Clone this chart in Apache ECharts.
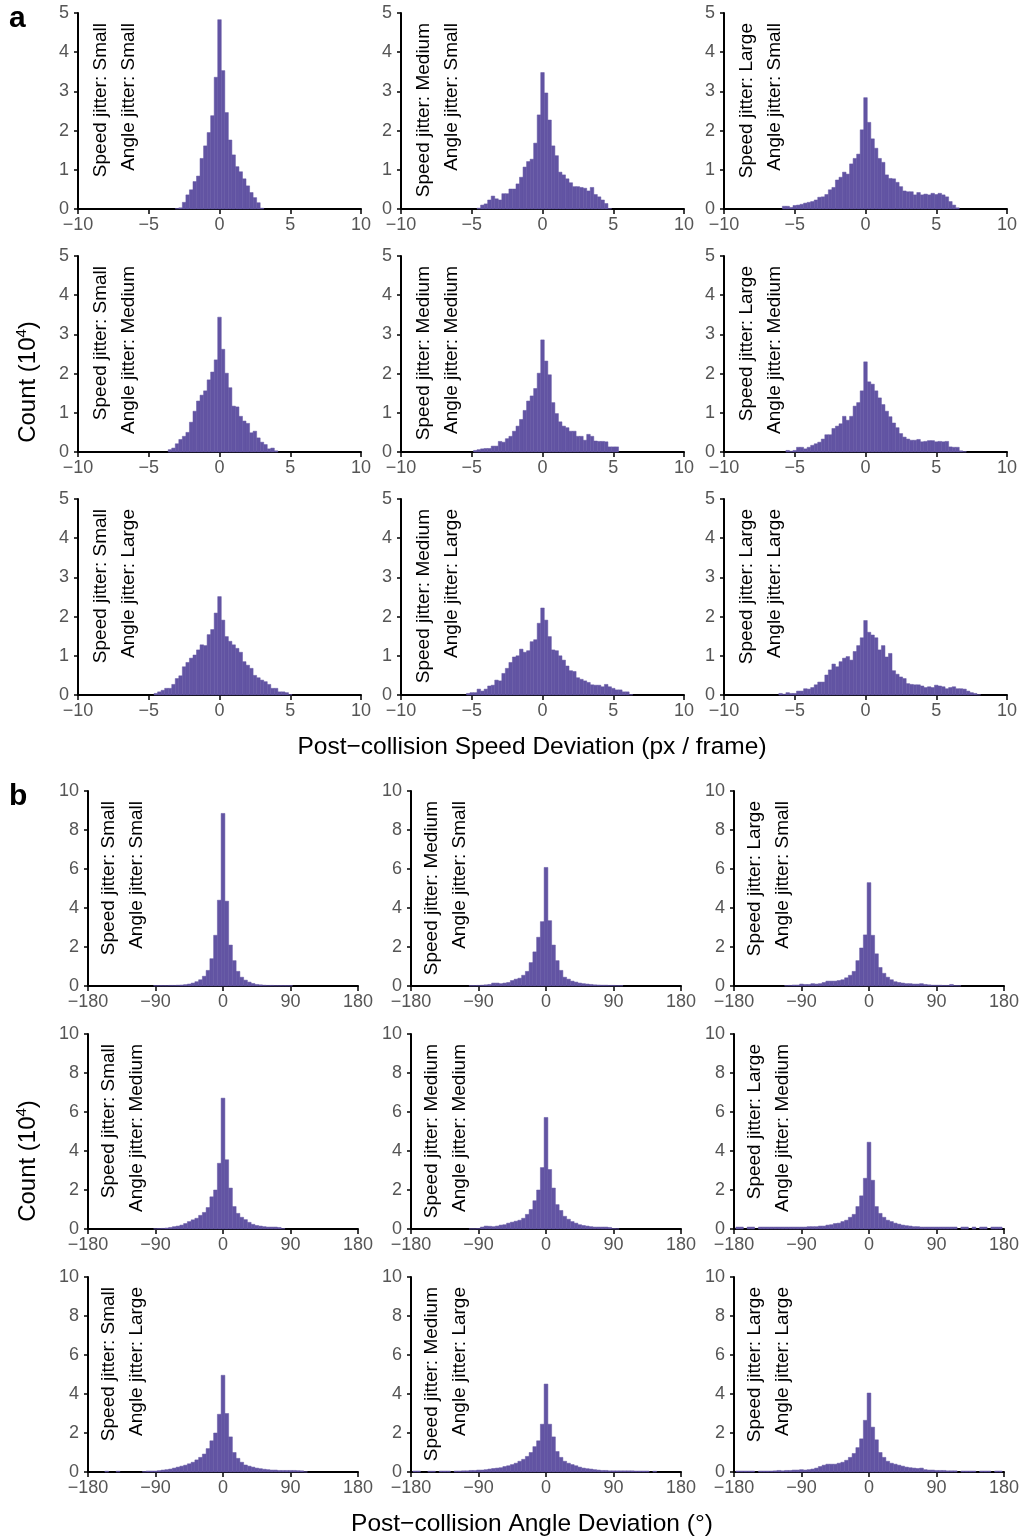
<!DOCTYPE html>
<html><head><meta charset="utf-8">
<script src="https://cdn.jsdelivr.net/npm/echarts@6/dist/echarts.min.js"></script>
<style>html,body{margin:0;padding:0;background:#fff}#c{width:1022px;height:1538px}</style>
</head><body><div id="c"></div>
<script>
// ---------------- DATA ----------------
const jitterLevels = ['Small', 'Medium', 'Large'];
const speedTicks = [-10, -5, 0, 5, 10];
const angleTicks = [-180, -90, 0, 90, 180];
const speedBinWidth = 0.25;   // px/frame
const angleBinWidth = 5;      // degrees

// Panel a: speed deviation histograms (counts in 10^4); name = speed_<speedJitter>_<angleJitter>
const speedStart_S_S = -3.0;
const speed_S_S = [0.01,0.03,0.17,0.36,0.49,0.70,0.84,1.29,1.61,1.95,2.38,3.36,4.83,3.53,2.46,1.76,1.38,1.08,0.95,0.77,0.59,0.42,0.29,0.16,0.02];
const speedStart_M_S = -4.5;
const speed_M_S = [0.02,0.10,0.13,0.23,0.33,0.26,0.23,0.39,0.39,0.51,0.51,0.64,0.81,1.07,1.21,1.27,1.68,2.40,3.48,2.96,2.27,1.61,1.36,0.94,0.87,0.77,0.67,0.57,0.57,0.55,0.53,0.46,0.55,0.37,0.31,0.23,0.14,0.01];
const speedStart_L_S = -5.75;
const speed_L_S = [0.07,0.07,0.04,0.09,0.10,0.12,0.15,0.17,0.19,0.23,0.30,0.31,0.37,0.49,0.55,0.74,0.81,0.94,0.89,1.15,1.29,1.40,2.02,2.84,2.21,1.79,1.55,1.29,1.19,0.87,0.78,0.77,0.68,0.57,0.46,0.44,0.44,0.36,0.42,0.36,0.38,0.36,0.40,0.37,0.40,0.36,0.31,0.19,0.10,0.03];
const speedStart_S_M = -3.5;
const speed_S_M = [0.06,0.10,0.21,0.32,0.40,0.50,0.76,1.04,1.30,1.45,1.56,1.84,2.04,2.35,3.44,2.62,2.01,1.64,1.17,1.15,0.91,0.79,0.73,0.49,0.53,0.36,0.25,0.19,0.08,0.10,0.03];
const speedStart_M_M = -4.75;
const speed_M_M = [0.04,0.06,0.08,0.09,0.09,0.15,0.15,0.27,0.25,0.34,0.40,0.53,0.66,0.83,1.06,1.30,1.43,1.62,2.01,2.86,2.32,1.97,1.26,0.98,0.77,0.66,0.62,0.53,0.53,0.40,0.40,0.30,0.45,0.40,0.28,0.27,0.27,0.26,0.13,0.13,0.13];
const speedStart_L_M = -5.5;
const speed_L_M = [0.04,0.02,0.04,0.12,0.12,0.08,0.12,0.17,0.21,0.25,0.33,0.44,0.44,0.60,0.66,0.72,0.91,0.81,0.91,1.17,1.26,1.56,2.30,1.79,1.73,1.56,1.38,1.21,1.04,0.90,0.74,0.62,0.47,0.38,0.33,0.30,0.30,0.32,0.26,0.27,0.29,0.29,0.26,0.27,0.26,0.27,0.13,0.12,0.12,0.03,0.01];
const speedStart_S_L = -4.5;
const speed_S_L = [0.04,0.08,0.12,0.17,0.17,0.27,0.42,0.49,0.72,0.83,0.94,1.02,1.15,1.28,1.26,1.54,1.67,2.09,2.51,1.91,1.49,1.37,1.28,1.19,1.09,0.85,0.76,0.68,0.50,0.44,0.38,0.34,0.27,0.17,0.17,0.08,0.08,0.06,0.01];
const speedStart_M_L = -5.25;
const speed_M_L = [0.04,0.06,0.06,0.15,0.10,0.15,0.23,0.25,0.38,0.36,0.55,0.68,0.83,0.97,1.00,1.17,1.09,1.13,1.36,1.41,1.83,2.22,1.91,1.49,1.15,1.13,1.00,0.89,0.74,0.62,0.60,0.44,0.40,0.36,0.32,0.26,0.25,0.25,0.21,0.27,0.21,0.17,0.13,0.13,0.08,0.08,0.01];
const speedStart_L_L = -6.0;
const speed_L_L = [0.04,0.02,0.06,0.04,0.04,0.10,0.10,0.16,0.15,0.19,0.26,0.33,0.33,0.51,0.64,0.79,0.72,0.85,0.94,0.98,0.89,1.11,1.26,1.46,1.90,1.60,1.53,1.46,1.15,1.26,0.97,1.06,0.62,0.53,0.46,0.42,0.29,0.27,0.26,0.26,0.23,0.19,0.21,0.19,0.25,0.23,0.21,0.16,0.19,0.21,0.16,0.16,0.15,0.10,0.06,0.04,0.01];

// Panel b: angle deviation histograms (counts in 10^4)
const angleStart_S_S = -90;
const angle_S_S = [0.02,0.02,0.02,0.02,0.03,0.03,0.04,0.05,0.07,0.10,0.15,0.22,0.32,0.50,0.80,1.40,2.60,4.40,8.85,4.35,2.10,1.30,0.75,0.45,0.30,0.20,0.13,0.08,0.06,0.04,0.03,0.03,0.02,0.02,0.02,0.02,0.02];
const angleStart_M_S = -100;
const angle_M_S = [0.02,0.02,0.03,0.04,0.06,0.08,0.15,0.15,0.12,0.15,0.18,0.28,0.35,0.40,0.55,0.75,1.20,1.75,2.50,3.30,6.08,3.35,2.10,1.30,0.80,0.45,0.35,0.25,0.20,0.15,0.12,0.10,0.08,0.06,0.05,0.04,0.04,0.03,0.03,0.02,0.02];
const angleStart_L_S = -110;
const angle_L_S = [0.02,0.03,0.05,0.05,0.10,0.08,0.08,0.12,0.10,0.12,0.18,0.25,0.25,0.25,0.28,0.32,0.42,0.55,0.75,1.30,1.95,2.62,5.30,2.60,1.65,0.95,0.65,0.45,0.32,0.22,0.18,0.15,0.12,0.12,0.10,0.10,0.12,0.08,0.06,0.04,0.04,0.04,0.03,0.03,0.08,0.02,0.02];
const angleStart_S_M = -90;
const angle_S_M = [0.01,0.02,0.03,0.05,0.08,0.12,0.15,0.20,0.28,0.38,0.47,0.55,0.70,0.85,1.10,1.65,2.00,3.37,6.71,3.55,2.10,1.15,0.80,0.60,0.48,0.34,0.24,0.18,0.15,0.12,0.10,0.10,0.10,0.08,0.02];
const angleStart_M_M = -100;
const angle_M_M = [0.01,0.01,0.02,0.10,0.15,0.14,0.12,0.15,0.20,0.22,0.30,0.35,0.40,0.45,0.55,0.75,1.00,1.45,2.00,3.15,5.72,3.05,2.10,1.25,0.95,0.65,0.50,0.38,0.30,0.22,0.18,0.15,0.12,0.10,0.10,0.10,0.10,0.08,0.02,0.01];
const angleStart_L_M = -175;
const angle_L_M = [0.10,0.10,0,0.10,0.10,0,0.10,0.10,0.10,0.10,0.10,0.10,0.10,0.10,0.10,0.10,0.10,0.10,0.10,0.12,0.12,0.12,0.15,0.15,0.20,0.22,0.28,0.30,0.38,0.45,0.60,0.75,1.15,1.70,2.60,4.45,2.50,1.15,0.80,0.60,0.45,0.38,0.30,0.25,0.20,0.17,0.15,0.12,0.12,0.10,0.10,0.10,0.10,0.10,0.10,0.10,0.10,0.10,0.10,0,0.10,0.10,0,0.10,0,0.10,0.10,0,0.10,0.10,0.10];
const angleStart_S_L = -155;
const angle_S_L = [0.04,0,0,0.04,0,0,0,0,0,0,0.02,0.05,0.05,0.05,0.07,0.10,0.12,0.15,0.20,0.25,0.30,0.35,0.42,0.50,0.62,0.75,0.92,1.20,1.60,2.00,2.96,4.96,3.00,1.80,1.00,0.70,0.50,0.36,0.30,0.25,0.20,0.17,0.14,0.12,0.10,0.10,0.08,0.08,0.08,0.08,0.08,0.07,0.06,0.01];
const angleStart_M_L = -175;
const angle_M_L = [0.05,0.05,0,0,0.04,0.04,0,0.05,0.05,0.05,0,0.05,0.05,0.06,0.06,0.08,0.08,0.10,0.10,0.12,0.15,0.18,0.20,0.22,0.28,0.32,0.38,0.45,0.55,0.65,0.80,1.00,1.30,1.60,2.45,4.51,2.45,1.80,1.05,0.75,0.55,0.45,0.38,0.32,0.25,0.20,0.17,0.15,0.12,0.10,0.08,0.08,0.06,0.06,0.06,0.06,0.06,0.06,0.06,0.05,0.05,0.05,0.05,0,0.04];
const angleStart_L_L = -175;
const angle_L_L = [0.05,0.05,0.05,0.05,0.05,0,0.05,0.05,0.05,0.05,0.06,0.08,0.06,0.08,0.08,0.10,0.10,0.12,0.10,0.12,0.15,0.20,0.28,0.35,0.40,0.40,0.40,0.45,0.50,0.60,0.75,0.95,1.25,1.70,2.65,4.05,2.30,1.65,1.00,0.75,0.55,0.45,0.40,0.35,0.30,0.25,0.22,0.20,0.18,0.20,0.12,0.10,0.10,0.08,0.08,0.08,0.06,0.06,0.06,0,0.05,0.05,0.05,0.05,0,0.05,0.05,0.05,0,0.05,0.05];

// rows = angle jitter level, cols = speed jitter level
const speedHists = [
  [[speedStart_S_S, speed_S_S], [speedStart_M_S, speed_M_S], [speedStart_L_S, speed_L_S]],
  [[speedStart_S_M, speed_S_M], [speedStart_M_M, speed_M_M], [speedStart_L_M, speed_L_M]],
  [[speedStart_S_L, speed_S_L], [speedStart_M_L, speed_M_L], [speedStart_L_L, speed_L_L]]
];
const angleHists = [
  [[angleStart_S_S, angle_S_S], [angleStart_M_S, angle_M_S], [angleStart_L_S, angle_L_S]],
  [[angleStart_S_M, angle_S_M], [angleStart_M_M, angle_M_M], [angleStart_L_M, angle_L_M]],
  [[angleStart_S_L, angle_S_L], [angleStart_M_L, angle_M_L], [angleStart_L_L, angle_L_L]]
];

// ---------------- LAYOUT / STYLE ----------------
const FONT = '"Liberation Sans", Arial, Helvetica, sans-serif';
const BAR = '#6254a3';
const TICKCOL = '#555555';
const panels = [
  { hists: speedHists, bw: speedBinWidth, ticks: speedTicks, yMax: 5, yInt: 1,
    lefts: [78, 401, 724], width: 283, tops: [13, 256, 499], height: 196, lab1: 22.5, lab2: 50.5 },
  { hists: angleHists, bw: angleBinWidth, ticks: angleTicks, yMax: 10, yInt: 2,
    lefts: [88, 411, 734], width: 270, tops: [791, 1034, 1277], height: 195, lab1: 20.5, lab2: 48.5 }
];

const grid = [], xAxis = [], yAxis = [], series = [], graphic = [];
function fmtNum(v) { return String(v).replace('-', '\u2212'); }

function makeRender(bw, xMin, xMax) {
  return function (params, api) {
    const c = api.value(0), v = api.value(1);
    if (!(v > 0)) return null;
    const l = Math.max(c - bw / 2, xMin), r = Math.min(c + bw / 2, xMax);
    const p0 = api.coord([l, v]);
    const p1 = api.coord([r, 0]);
    return {
      type: 'rect',
      shape: { x: p0[0], y: p0[1], width: p1[0] - p0[0], height: p1[1] - p0[1] },
      style: { fill: BAR, stroke: BAR, lineWidth: 0.5 }
    };
  };
}

let gi = 0;
panels.forEach(function (P) {
  const xMin = P.ticks[0], xMax = P.ticks[P.ticks.length - 1];
  for (let r = 0; r < 3; r++) {
    for (let c = 0; c < 3; c++) {
      grid.push({ left: P.lefts[c], top: P.tops[r], width: P.width, height: P.height });
      xAxis.push({
        type: 'value', gridIndex: gi, min: xMin, max: xMax, interval: P.ticks[1] - P.ticks[0],
        axisLine: { show: true, onZero: false, lineStyle: { color: '#000', width: 2 } },
        axisTick: { show: true, length: 5, lineStyle: { color: '#000', width: 1.5 } },
        axisLabel: { color: TICKCOL, fontSize: 18, fontFamily: FONT, margin: 7, formatter: fmtNum, showMinLabel: true, showMaxLabel: true },
        splitLine: { show: false }
      });
      yAxis.push({
        type: 'value', gridIndex: gi, min: 0, max: P.yMax, interval: P.yInt,
        axisLine: { show: true, onZero: false, lineStyle: { color: '#000', width: 2 } },
        axisTick: { show: true, length: 4, lineStyle: { color: '#000', width: 1.5 } },
        axisLabel: { color: TICKCOL, fontSize: 18, fontFamily: FONT, margin: 9 },
        splitLine: { show: false }
      });
      const h = P.hists[r][c];
      const start = h[0], vals = h[1];
      series.push({
        type: 'custom', xAxisIndex: gi, yAxisIndex: gi,
        renderItem: makeRender(P.bw, xMin, xMax),
        encode: { x: 0, y: 1 },
        data: vals.map(function (v, i) { return [start + i * P.bw, v]; }),
        silent: true, animation: false
      });
      const txtStyle = { font: '19px ' + FONT, fill: '#000', align: 'right', verticalAlign: 'middle' };
      graphic.push({ type: 'text', x: P.lefts[c] + P.lab1, y: P.tops[r] + 10, rotation: Math.PI / 2,
        style: Object.assign({ text: 'Speed jitter: ' + jitterLevels[c] }, txtStyle) });
      graphic.push({ type: 'text', x: P.lefts[c] + P.lab2, y: P.tops[r] + 10, rotation: Math.PI / 2,
        style: Object.assign({ text: 'Angle jitter: ' + jitterLevels[r] }, txtStyle) });
      gi++;
    }
  }
});

// panel letters, axis titles
graphic.push({ type: 'text', x: 9, y: 19, style: { text: 'a', font: 'bold 30px ' + FONT, fill: '#000', verticalAlign: 'middle' } });
graphic.push({ type: 'text', x: 9, y: 797, style: { text: 'b', font: 'bold 30px ' + FONT, fill: '#000', verticalAlign: 'middle' } });
function countLabel(y) {
  return { type: 'text', x: 28, y: y, rotation: Math.PI / 2,
    style: { text: '{a|Count (10}{s|4}{a|)}', align: 'center', verticalAlign: 'middle',
      rich: { a: { fontSize: 24, fontFamily: FONT, fill: '#000', lineHeight: 28 },
              s: { fontSize: 15, fontFamily: FONT, fill: '#000', verticalAlign: 'top', lineHeight: 28 } } } };
}
graphic.push(countLabel(382));
graphic.push(countLabel(1161));
graphic.push({ type: 'text', x: 532, y: 747, style: { text: 'Post\u2212collision Speed Deviation (px / frame)', font: '24.5px ' + FONT, fill: '#000', align: 'center', verticalAlign: 'middle' } });
graphic.push({ type: 'text', x: 532, y: 1524, style: { text: 'Post\u2212collision Angle Deviation (\u00b0)', font: '24.5px ' + FONT, fill: '#000', align: 'center', verticalAlign: 'middle' } });

const chart = echarts.init(document.getElementById('c'), null, { renderer: 'canvas' });
chart.setOption({ animation: false, backgroundColor: '#fff', grid: grid, xAxis: xAxis, yAxis: yAxis, series: series, graphic: graphic });
</script>
</body></html>
